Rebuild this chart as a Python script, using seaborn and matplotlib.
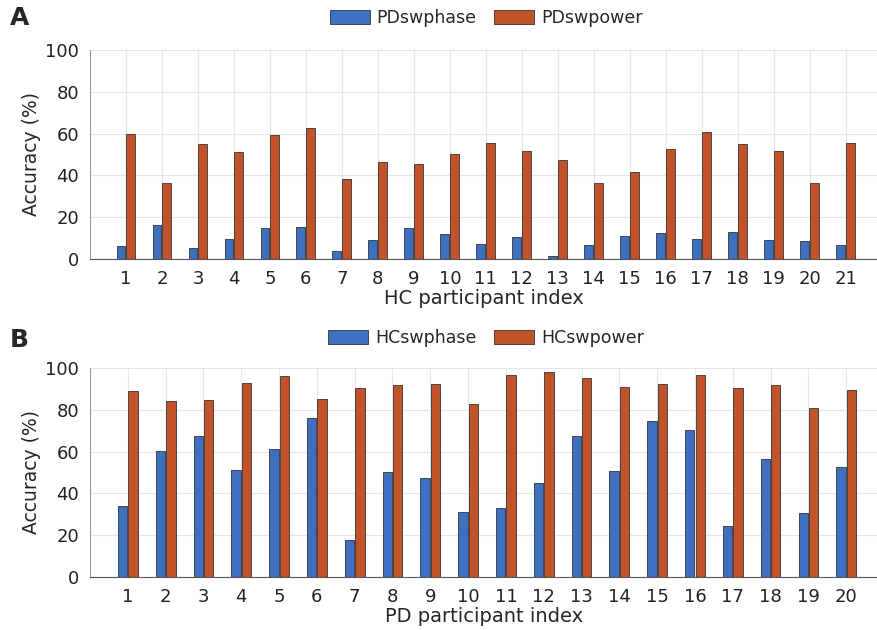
import pandas as pd
import numpy as np
import matplotlib
matplotlib.use('Agg')
import matplotlib.pyplot as plt
import seaborn as sns

# panel A: HC participants
hc_index = [str(i) for i in range(1, 22)]
pd_swphase = [6.4, 16.5, 5.1, 9.8, 15.0, 15.4, 3.7, 9.1, 15.0, 12.0, 7.4,
              10.7, 1.3, 6.6, 11.0, 12.5, 9.4, 13.0, 9.1, 8.6, 6.9]
pd_swpower = [60.0, 36.5, 54.9, 51.4, 59.2, 62.7, 38.1, 46.2, 45.6, 50.1, 55.4,
              51.5, 47.5, 36.3, 41.4, 52.8, 60.6, 55.0, 51.8, 36.3, 55.4]

# panel B: PD participants
pd_index = [str(i) for i in range(1, 21)]
hc_swphase = [34.0, 60.1, 67.6, 51.1, 61.1, 76.1, 17.8, 50.3, 47.3, 30.9,
              33.2, 45.0, 67.5, 50.8, 74.8, 70.4, 24.5, 56.4, 30.4, 52.4]
hc_swpower = [88.9, 84.3, 84.9, 92.9, 96.0, 85.4, 90.2, 91.7, 92.3, 82.7,
              96.5, 97.9, 95.0, 90.9, 92.5, 96.5, 90.4, 92.0, 81.1, 89.6]

blue = '#3E6FC0'
orange = '#C1532A'

sns.set_style('whitegrid')
plt.rcParams['font.family'] = ['DejaVu Sans']

fig = plt.figure(figsize=(8.78, 6.3), dpi=100)
ax1 = fig.add_axes([90/878, 1-259/630, 788/878, 209/630])
ax2 = fig.add_axes([90/878, 1-577/630, 788/878, 209/630])


def panel(ax, idx, phase, power, names, xlabel, right):
    df = pd.DataFrame({'idx': idx * 2,
                       'acc': phase + power,
                       'series': [names[0]] * len(idx) + [names[1]] * len(idx)})
    sns.barplot(data=df, x='idx', y='acc', hue='series', order=idx,
                palette=[blue, orange], saturation=1, width=0.55, gap=0.1,
                edgecolor='#333333', linewidth=0.6, ax=ax)
    ax.set_xlim(-1, right)
    ax.set_ylim(0, 100)
    ax.set_yticks([0, 20, 40, 60, 80, 100])
    ax.set_xlabel(xlabel, fontsize=14, labelpad=1)
    ax.set_ylabel('Accuracy (%)', fontsize=13.5, labelpad=3)
    ax.tick_params(axis='both', labelsize=13, colors='#222222', length=0, pad=8)
    ax.grid(True, color='#e6e6e6', linewidth=0.8)
    ax.set_axisbelow(True)
    for s in ['top', 'right']:
        ax.spines[s].set_visible(False)
    ax.spines['left'].set_color('#999999')
    ax.spines['bottom'].set_color('#555555')
    handles, labels = ax.get_legend_handles_labels()
    ax.get_legend().remove()
    return handles, labels


h1, l1 = panel(ax1, hc_index, pd_swphase, pd_swpower,
               ['PDswphase', 'PDswpower'], 'HC participant index', 20.9)
h2, l2 = panel(ax2, pd_index, hc_swphase, hc_swpower,
               ['HCswphase', 'HCswpower'], 'PD participant index', 19.84)

for h, l, y in [(h1, l1, 18), (h2, l2, 338)]:
    fig.legend(h, l, loc='center', bbox_to_anchor=(486/878, 1-y/630), ncol=2,
               frameon=False, fontsize=12.5, handlelength=2.3, handleheight=0.9,
               columnspacing=1.0, handletextpad=0.4)

fig.text(10/878, 1-18/630, 'A', fontsize=18, fontweight='bold', va='center')
fig.text(10/878, 1-340/630, 'B', fontsize=18, fontweight='bold', va='center')

fig.savefig('out.png', dpi=100)
